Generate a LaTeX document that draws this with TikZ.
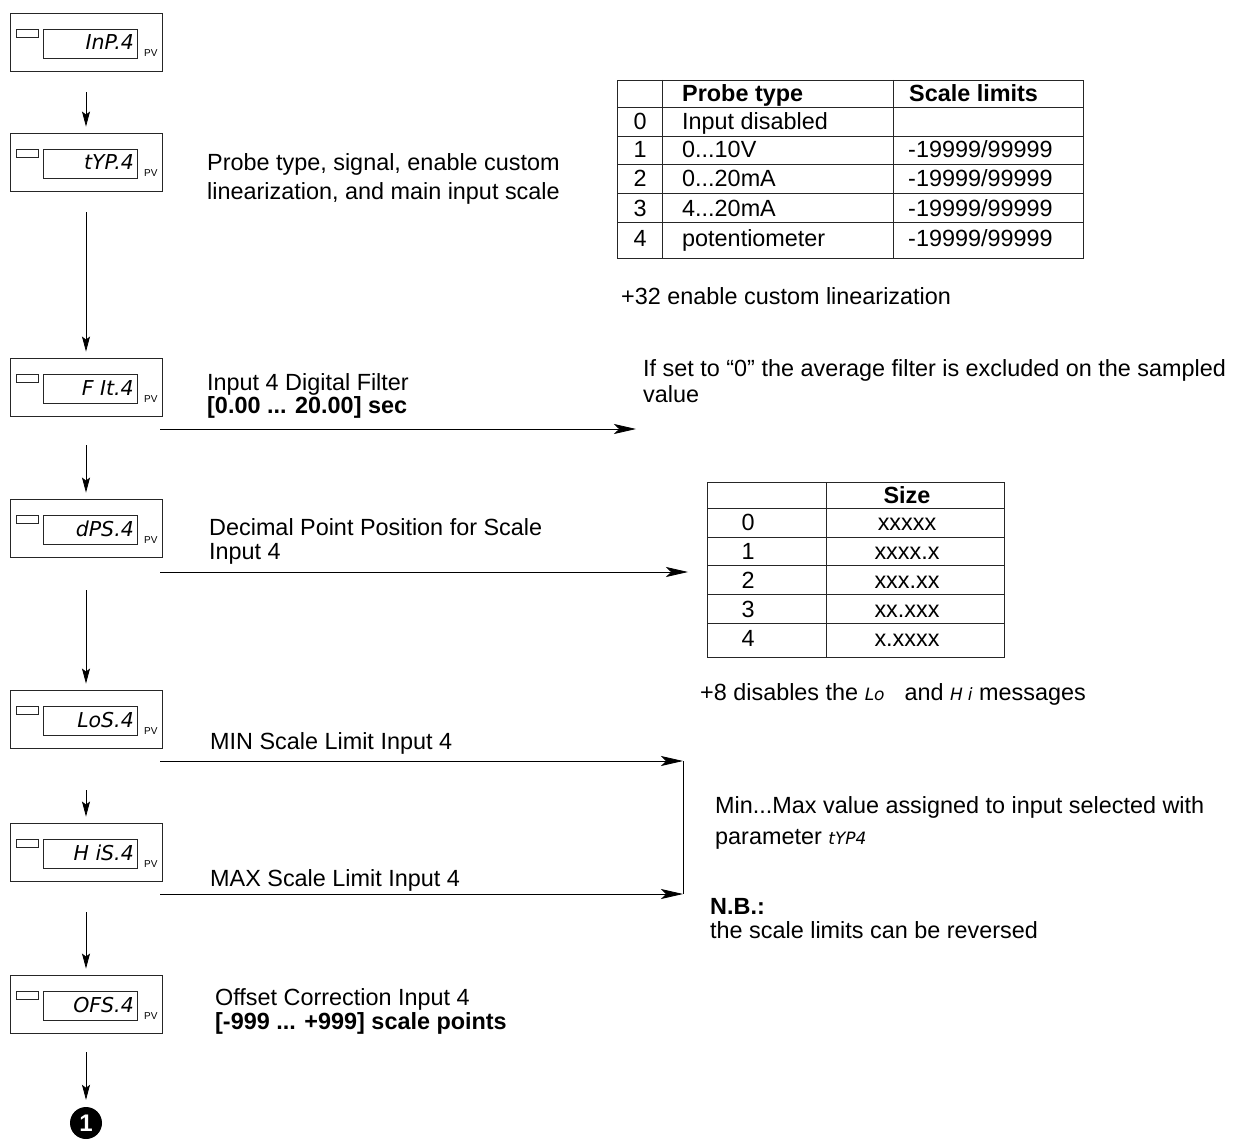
\documentclass[tikz,border=0pt]{standalone}
\usepackage{fontspec}
\setmainfont{Liberation Sans}
\newfontfamily\segfont{DejaVu Sans}
\usetikzlibrary{arrows.meta}
\newcommand{\seg}[1]{{\segfont\itshape\fontsize{17}{17}\selectfont #1}}
\newcommand{\dispunit}[3]{%
  \node[dispouter] (#1) at (86,#2) {};
  \node[dline, minimum width=22pt, minimum height=8pt] (#1s) at (27,{#2-9}) {};
  \node[dline, minimum width=94pt, minimum height=29pt] (#1d) at (90,{#2+1.5}) {};
  \node[segtxt] (#1t) at (134,{#2+8}) {#3};
  \node[pvtxt] (#1pv) at (144,{#2+15}) {PV};
}
\begin{document}
\begin{tikzpicture}[x=1pt,y=-1pt,
  every node/.style={inner sep=0pt},
  txt/.style={anchor=base west, font=\fontsize{23.4}{28}\selectfont},
  btxt/.style={anchor=base west, font=\fontsize{23.4}{28}\selectfont\bfseries},
  ctxt/.style={anchor=base, font=\fontsize{23.4}{28}\selectfont},
  cbtxt/.style={anchor=base, font=\fontsize{23.4}{28}\selectfont\bfseries},
  dispouter/.style={draw=black!85, line width=0.9pt, minimum width=152pt, minimum height=58pt},
  dline/.style={draw=black!85, line width=0.8pt},
  segtxt/.style={anchor=base east, font=\segfont\itshape\fontsize{20.5}{20.5}\selectfont},
  pvtxt/.style={anchor=base west, font=\fontsize{10}{10}\selectfont},
  varrow/.style={-{Stealth[length=15pt,width=8pt,inset=3pt]}, line width=0.8pt},
  harrow/.style={-{Stealth[length=22pt,width=10pt,inset=5pt]}, line width=0.8pt},
  tline/.style={line width=0.8pt, draw=black!85}
]
\useasboundingbox (0,0) rectangle (1236,1142);

% displays
\dispunit{inp}{42}{InP.4}
\dispunit{typ}{162}{tYP.4}
\dispunit{fit}{387}{F It.4}
\dispunit{dps}{528}{dPS.4}
\dispunit{los}{719}{LoS.4}
\dispunit{his}{852}{H iS.4}
\dispunit{ofs}{1004}{OFS.4}
\node[circle, fill=black, text=white, minimum size=32pt, font=\bfseries\fontsize{24}{24}\selectfont] (one) at (86,1123) {1};

% vertical flow
\draw[varrow, shorten <=21pt, shorten >=6pt] (inp) -- (typ);
\draw[varrow, shorten <=21pt, shorten >=6pt] (typ) -- (fit);
\draw[varrow, shorten <=29pt, shorten >=6pt] (fit) -- (dps);
\draw[varrow, shorten <=33pt, shorten >=6pt] (dps) -- (los);
\draw[varrow, shorten <=42pt, shorten >=6pt] (los) -- (his);
\draw[varrow, shorten <=31pt, shorten >=6pt] (his) -- (ofs);
\draw[varrow, shorten <=19pt, shorten >=7pt] (ofs) -- (one);

% horizontal arrows
\coordinate (fitA) at (160,429); \coordinate (fitB) at (636,429);
\coordinate (dpsA) at (160,572); \coordinate (dpsB) at (688,572);
\coordinate (minA) at (160,761); \coordinate (minB) at (683,761);
\coordinate (maxA) at (160,894); \coordinate (maxB) at (683,894);
\draw[harrow] (fitA) -- (fitB);
\draw[harrow] (dpsA) -- (dpsB);
\draw[harrow] (minA) -- (minB);
\draw[harrow] (maxA) -- (maxB);
\draw[line width=0.8pt] (minB) -- (maxB);

% texts
\node[txt] (pt1) at (207,171) {Probe type, signal, enable custom};
\node[txt] (pt2) at (207,200) {linearization, and main input scale};
\node[txt] (if1) at (207,390) {Input 4 Digital Filter};
\node[btxt] (if2) at (207,413) {[0.00 ... 20.00] sec};
\node[txt] (av1) at (643,376) {If set to “0” the average filter is excluded on the sampled};
\node[txt] (av2) at (643,402) {value};
\node[txt] (dp1) at (209,535) {Decimal Point Position for Scale};
\node[txt] (dp2) at (209,559) {Input 4};
\node[txt] (mn) at (210,749) {MIN Scale Limit Input 4};
\node[txt] (mx) at (210,886) {MAX Scale Limit Input 4};
\node[txt] (mm1) at (715,813) {Min...Max value assigned to input selected with};
\node[txt] (mm2) at (715,844) {parameter \seg{tYP4}};
\node[btxt] (nb1) at (710,914) {N.B.:};
\node[txt] (nb2) at (710,938) {the scale limits can be reversed};
\node[txt] (of1) at (215,1005) {Offset Correction Input 4};
\node[btxt] (of2) at (215,1029) {[-999 ... +999] scale points};
\node[txt] (p32) at (621,304) {+32 enable custom linearization};
\node[txt] (p8) at (700,700) {+8 disables the \seg{Lo}\hspace{20pt}and \seg{H\hspace{5pt}i} messages};

% table 1
\draw[tline] (617,80) rectangle (1083,258);
\draw[tline] (662,80) -- (662,258);
\draw[tline] (893,80) -- (893,258);
\foreach \yy in {107,136,164,193,222} \draw[tline] (617,\yy) -- (1083,\yy);
\node[btxt] (h1) at (682,102) {Probe type};
\node[btxt] (h2) at (909,102) {Scale limits};
\node[ctxt] (r0a) at (640,130) {0};
\node[txt] (r0b) at (682,130) {Input disabled};
\node[ctxt] (r1a) at (640,158) {1};
\node[txt] (r1b) at (682,158) {0...10V};
\node[txt] (r1c) at (908,158) {-19999/99999};
\node[ctxt] (r2a) at (640,187) {2};
\node[txt] (r2b) at (682,187) {0...20mA};
\node[txt] (r2c) at (908,187) {-19999/99999};
\node[ctxt] (r3a) at (640,216) {3};
\node[txt] (r3b) at (682,216) {4...20mA};
\node[txt] (r3c) at (908,216) {-19999/99999};
\node[ctxt] (r4a) at (640,246) {4};
\node[txt] (r4b) at (682,246) {potentiometer};
\node[txt] (r4c) at (908,246) {-19999/99999};

% table 2
\draw[tline] (707,482) rectangle (1004,657);
\draw[tline] (826,482) -- (826,657);
\foreach \yy in {508,537,565,594,623} \draw[tline] (707,\yy) -- (1004,\yy);
\node[cbtxt] (sz) at (907,503) {Size};
\node[ctxt] (s0a) at (748,530) {0};
\node[ctxt] (s0b) at (907,530) {xxxxx};
\node[ctxt] (s1a) at (748,559) {1};
\node[ctxt] (s1b) at (907,559) {xxxx.x};
\node[ctxt] (s2a) at (748,588) {2};
\node[ctxt] (s2b) at (907,588) {xxx.xx};
\node[ctxt] (s3a) at (748,617) {3};
\node[ctxt] (s3b) at (907,617) {xx.xxx};
\node[ctxt] (s4a) at (748,646) {4};
\node[ctxt] (s4b) at (907,646) {x.xxxx};
\end{tikzpicture}
\end{document}
